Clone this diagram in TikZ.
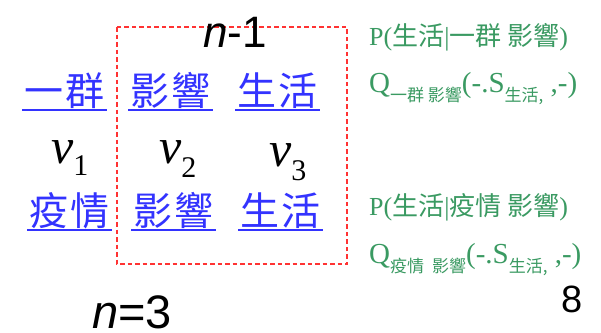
\documentclass[tikz,border=0pt]{standalone}
\usepackage{fontspec}
\setmainfont{Liberation Serif}
\newfontfamily\cjk{Noto Sans CJK TC}
\newfontfamily\arialf{Liberation Sans}
\definecolor{lnkblue}{HTML}{3333FF}
\definecolor{fgreen}{HTML}{3A9A62}
\definecolor{dashred}{HTML}{FF3333}
\newcommand{\cjksub}[1]{\raisebox{-9pt}{\cjk\fontsize{17}{19}\selectfont #1}}
\newcommand{\vsub}[2]{\raisebox{-#1}{\fontsize{30}{32}\selectfont\upshape #2}}
\begin{document}
\begin{tikzpicture}[x=1pt,y=-1pt,
  word/.style={anchor=base west, inner ysep=0pt, inner xsep=2.5pt, text=lnkblue,
               font=\cjk\fontsize{39}{42}\selectfont},
  uline/.style={draw=lnkblue, line width=2pt},
  vsym/.style={anchor=base west, inner sep=0pt, font=\fontsize{50}{56}\selectfont\itshape},
  note/.style={anchor=base west, inner sep=0pt, text=fgreen, font=\fontsize{26}{28}\selectfont},
  qnote/.style={anchor=base west, inner sep=0pt, text=fgreen, font=\fontsize{29}{32}\selectfont},
  big/.style={font=\arialf\fontsize{44}{48}\selectfont, inner sep=0pt},
  boxline/.style={draw=dashred, line width=1.4pt, dash pattern=on 4.5pt off 3pt}]
\useasboundingbox (0,0) rectangle (601,332);
\fill[white] (0,0) rectangle (601,332);

% dashed box
\draw[boxline] (117,27) rectangle (347,264);

% n-1 label
\node[big, anchor=base] (nm1) at (235,47) {\itshape n\upshape -1};

% top row words
\node[word] (a1) at (22,105) {一\hspace{2pt}群};
\node[word] (a2) at (128,105) {影\hspace{2pt}響};
\node[word] (a3) at (235,105) {生\hspace{2pt}活};
\foreach \w in {a1,a2,a3}
  \draw[uline] ([yshift=-5pt]\w.base west) -- ([yshift=-5pt]\w.base east);

% v labels
\node[vsym] (v1) at (51,163) {v\vsub{12pt}{1}};
\node[vsym] (v2) at (159,163) {v\vsub{14pt}{2}};
\node[vsym] (v3) at (269,166) {v\vsub{14pt}{3}};

% bottom row words
\node[word] (b1) at (27,225) {疫\hspace{2pt}情};
\node[word] (b2) at (131,225) {影\hspace{2pt}響};
\node[word] (b3) at (238,225) {生\hspace{2pt}活};
\foreach \w in {b1,b2,b3}
  \draw[uline] ([yshift=-5pt]\w.base west) -- ([yshift=-5pt]\w.base east);

% n=3
\node[big, anchor=base west, font=\arialf\fontsize{47}{50}\selectfont] (n3) at (92,328) {\itshape n\upshape =3};

% right notes
\node[note] (p1) at (369,45) {P({\cjk 生活}|{\cjk 一群 影響})};
\node[qnote] (q1) at (369,92) {Q\cjksub{一群 影響}(-.S\cjksub{生活,}\ ,-)};
\node[note] (p2) at (369,215) {P({\cjk 生活}|{\cjk 疫情 影響})};
\node[qnote] (q2) at (369,263) {Q\cjksub{疫情\hspace{8pt}影響}(-.S\cjksub{生活,}\ ,-)};

% page number
\node[anchor=base west, inner sep=0pt, font=\arialf\fontsize{38}{40}\selectfont] (pg) at (561,312) {8};
\end{tikzpicture}
\end{document}
